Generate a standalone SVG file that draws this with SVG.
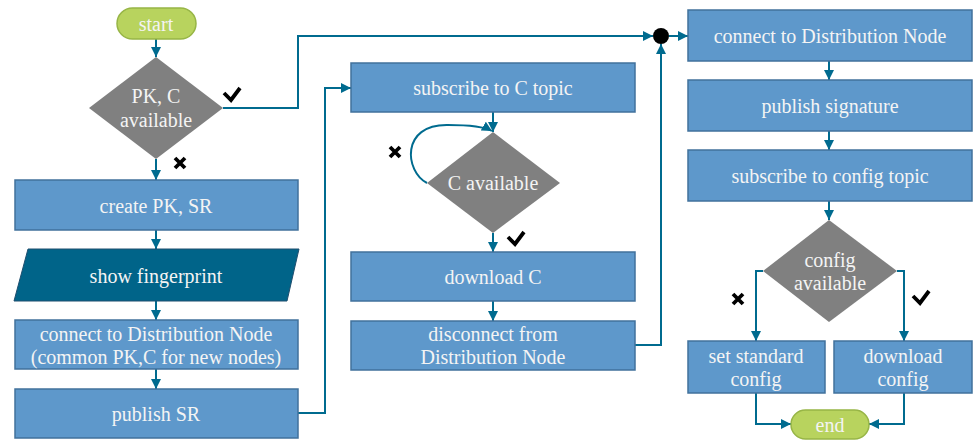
<svg xmlns="http://www.w3.org/2000/svg" width="973" height="440" viewBox="0 0 973 440">
<style>
.box{fill:#5e98cb;stroke:#41719c;stroke-width:1.5}
.dec{fill:#808080}
.term{fill:#b8d35e;stroke:#97b546;stroke-width:1.5}
.io{fill:#006489;stroke:#1f4e6e;stroke-width:1}
.t{font-family:'Liberation Serif','Times New Roman',serif;font-size:20px;fill:#f4f4f4;text-anchor:middle;dominant-baseline:central}
.c{fill:none;stroke:#006b8f;stroke-width:2}
.mk{fill:none;stroke:#000;stroke-width:3.8;stroke-linecap:butt;stroke-linejoin:miter}
</style>
<defs>
<marker id="a" viewBox="0 0 10 10" refX="10" refY="5" markerWidth="10" markerHeight="10" markerUnits="userSpaceOnUse" orient="auto">
<path d="M0,0 L10,5 L0,10 Z" fill="#006b8f"/>
</marker>
</defs>
<g id="connectors">
<path class="c" d="M156,39 V57" marker-end="url(#a)"/>
<path class="c" d="M156,159 V180" marker-end="url(#a)"/>
<path class="c" d="M223,108 H298 V36 H653" marker-end="url(#a)"/>
<path class="c" d="M156,230 V249" marker-end="url(#a)"/>
<path class="c" d="M156,301 V320" marker-end="url(#a)"/>
<path class="c" d="M156,369 V389" marker-end="url(#a)"/>
<path class="c" d="M298,413 H325 V88 H351" marker-end="url(#a)"/>
<path class="c" d="M493,112 V132" marker-end="url(#a)"/>
<path class="c" d="M427,183 C405,172 400,124 448,125 C470,125 485,127 492,131" marker-end="url(#a)"/>
<path class="c" d="M493,233 V252" marker-end="url(#a)"/>
<path class="c" d="M493,301 V321" marker-end="url(#a)"/>
<path class="c" d="M635,345 H661 V44" marker-end="url(#a)"/>
<path class="c" d="M669,36 H688" marker-end="url(#a)"/>
<path class="c" d="M829,61 V80" marker-end="url(#a)"/>
<path class="c" d="M829,131 V150" marker-end="url(#a)"/>
<path class="c" d="M829,201 V220" marker-end="url(#a)"/>
<path class="c" d="M763,271 H756 V341" marker-end="url(#a)"/>
<path class="c" d="M897,271 H904 V341" marker-end="url(#a)"/>
<path class="c" d="M756,393 V424 H791" marker-end="url(#a)"/>
<path class="c" d="M904,393 V424 H869" marker-end="url(#a)"/>
<circle cx="661" cy="36" r="8" fill="#000"/>
</g>
<g id="marks">
<path class="mk" d="M224,93 L231,100 L240,88"/>
<path class="mk" d="M175,158 L185,168 M185,158 L175,168"/>
<path class="mk" d="M390,147 L400,157 M400,147 L390,157"/>
<path class="mk" d="M508,237 L515,244 L524,232"/>
<path class="mk" d="M733,294 L743,304 M743,294 L733,304"/>
<path class="mk" d="M913,296 L920,303 L929,291"/>
</g>
<g id="start"><rect class="term" x="117" y="8" width="79" height="31" rx="15.5"/><text class="t" x="156" y="24">start</text></g>
<g id="pkc"><polygon class="dec" points="156,57 223,108 156,159 89,108"/><text class="t" x="156" y="96">PK, C</text><text class="t" x="156" y="120">available</text></g>
<g id="create"><rect class="box" x="15" y="180" width="283" height="50"/><text class="t" x="156" y="206">create PK, SR</text></g>
<g id="fingerprint"><polygon class="io" points="28,249 299,249 287,301 14,301"/><text class="t" x="156" y="276">show fingerprint</text></g>
<g id="connect1"><rect class="box" x="15" y="320" width="283" height="49"/><text class="t" x="156" y="334">connect to Distribution Node</text><text class="t" x="156" y="357">(common PK,C for new nodes)</text></g>
<g id="publishsr"><rect class="box" x="15" y="389" width="283" height="49"/><text class="t" x="156" y="414">publish SR</text></g>
<g id="subc"><rect class="box" x="351" y="63" width="284" height="49"/><text class="t" x="493" y="88">subscribe to C topic</text></g>
<g id="cavail"><polygon class="dec" points="493,132 560,183 493,233 427,183"/><text class="t" x="493" y="183">C available</text></g>
<g id="dlc"><rect class="box" x="351" y="252" width="284" height="49"/><text class="t" x="493" y="277">download C</text></g>
<g id="disconnect"><rect class="box" x="351" y="321" width="284" height="49"/><text class="t" x="493" y="334">disconnect from</text><text class="t" x="493" y="357">Distribution Node</text></g>
<g id="connect2"><rect class="box" x="688" y="10" width="284" height="51"/><text class="t" x="830" y="36">connect to Distribution Node</text></g>
<g id="pubsig"><rect class="box" x="688" y="80" width="284" height="51"/><text class="t" x="830" y="106">publish signature</text></g>
<g id="subcfg"><rect class="box" x="688" y="150" width="284" height="51"/><text class="t" x="830" y="176">subscribe to config topic</text></g>
<g id="cfgavail"><polygon class="dec" points="829,220 897,271 829,322 763,271"/><text class="t" x="830" y="260">config</text><text class="t" x="830" y="283">available</text></g>
<g id="setstd"><rect class="box" x="688" y="341" width="137" height="52"/><text class="t" x="756" y="356">set standard</text><text class="t" x="756" y="379">config</text></g>
<g id="dlcfg"><rect class="box" x="834" y="341" width="138" height="52"/><text class="t" x="903" y="356">download</text><text class="t" x="903" y="379">config</text></g>
<g id="end"><rect class="term" x="791" y="410" width="78" height="29" rx="14.5"/><text class="t" x="830" y="425">end</text></g>
</svg>
